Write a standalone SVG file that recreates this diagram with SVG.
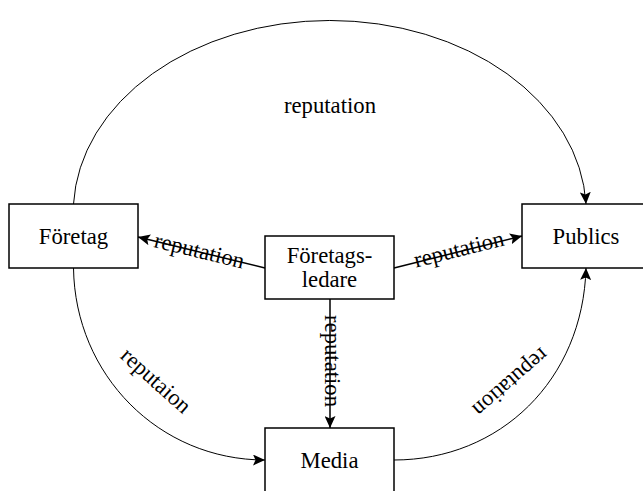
<svg xmlns="http://www.w3.org/2000/svg" width="643" height="491" viewBox="0 0 643 491">
<style>
.box{fill:#fff;stroke:#000;stroke-width:1.5}
.t{font-family:"Liberation Serif","Times New Roman",serif;font-size:22.7px;fill:#000;text-anchor:middle}
.c{fill:none;stroke:#000;stroke-width:1}
.s{fill:none;stroke:#000;stroke-width:1.5}
</style>
<defs>
<marker id="ah" markerUnits="userSpaceOnUse" markerWidth="13" markerHeight="11" refX="12" refY="5.5" orient="auto">
<path d="M0,0 L12,5.5 L0,11 L2.5,5.5 Z" fill="#000"/>
</marker>
</defs>
<rect width="643" height="491" fill="#fff"/>
<g id="connectors">
<path class="c" d="M73.5,204 A256.5,192 0 0 1 586,204" marker-end="url(#ah)"/>
<path class="c" d="M73.5,268 C75,375 159,460 265,460" marker-end="url(#ah)"/>
<path class="c" d="M394,460 C500,460 583,380 586,268" marker-end="url(#ah)"/>
<path class="s" d="M265,268 L138,237" marker-end="url(#ah)"/>
<path class="s" d="M394,268 L522,236" marker-end="url(#ah)"/>
<path class="s" d="M330,299 L330,428" marker-end="url(#ah)"/>
<text class="t" x="330" y="113">reputation</text>
<text class="t" transform="translate(199,252) rotate(13.7)" y="6">reputation</text>
<text class="t" transform="translate(459.5,251.6) rotate(-14)" y="5">reputation</text>
<text class="t" transform="translate(330,361) rotate(90)" y="5">reputation</text>
<text class="t" transform="translate(151,386) rotate(42)">reputaion</text>
<text class="t" transform="translate(506,377) rotate(139)">reputation</text>
</g>
<g id="foretag">
<rect class="box" x="9" y="204" width="129" height="64"/>
<text class="t" x="73.5" y="243.5">Företag</text>
</g>
<g id="ledare">
<rect class="box" x="265" y="236" width="129" height="63"/>
<text class="t" x="329.5" y="263">Företags-</text>
<text class="t" x="329.5" y="287">ledare</text>
</g>
<g id="publics">
<rect class="box" x="522" y="204" width="129" height="64"/>
<text class="t" x="586" y="243.5">Publics</text>
</g>
<g id="media">
<rect class="box" x="265" y="428" width="129" height="64"/>
<text class="t" x="329.5" y="467.5">Media</text>
</g>
</svg>
